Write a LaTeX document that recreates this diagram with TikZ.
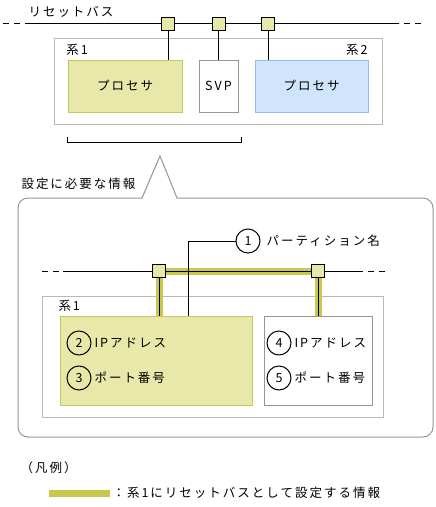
\documentclass[tikz,border=0pt]{standalone}
\usepackage{fontspec}
\setmainfont{Noto Sans CJK JP}[LetterSpace=16]
\usetikzlibrary{positioning}
\definecolor{sysfill}{RGB}{232,232,170}
\definecolor{sysline}{RGB}{200,200,90}
\definecolor{band}{RGB}{200,200,80}
\definecolor{bluefill}{RGB}{208,228,252}
\definecolor{blueline}{RGB}{140,190,245}
\definecolor{framegray}{RGB}{185,185,185}
\definecolor{boxgray}{RGB}{150,150,150}

\begin{document}
\begin{tikzpicture}[x=1pt,y=-1pt, line width=1pt, every node/.style={font=\fontsize{12.5}{14}\selectfont,inner sep=0pt}, frame/.style={draw=framegray,minimum width=#1}, sysbox/.style={draw=sysline,fill=sysfill}, port/.style={draw=black,fill=sysfill,minimum size=13pt}, num/.style={circle,draw,minimum size=24pt}, busdash/.style={dash pattern=on 6pt off 5pt}]
\useasboundingbox (0,0) rectangle (436,507);
% upper part
\node[anchor=west] (bus) at (28,12) {リセットバス};
\node[frame=328pt,minimum height=86pt] (sys) at (218,81) {};
\node[anchor=west] (k1) at (66,50) {系1};
\node[anchor=east] (k2) at (368,50) {系2};
\node[sysbox,minimum width=114pt,minimum height=52pt] (proc1) at (125,86) {プロセサ};
\node[draw=boxgray,fill=white,minimum width=39pt,minimum height=52pt] (svp) at (218.5,86) {SVP};
\node[draw=blueline,fill=bluefill,minimum width=113pt,minimum height=52pt] (proc2) at (311.5,86) {プロセサ};
\coordinate (bl) at (3,23.5); \coordinate (bl2) at (25,23.5);
\coordinate (br) at (421,23.5); \coordinate (br2) at (399,23.5);
\draw[busdash] (bl)--(bl2); \draw (bl2)--(br2); \draw[busdash] (br)--(br2);
\node[port] (s1) at (168,23.5) {};
\node[port] (s2) at (218.5,23.5) {};
\node[port] (s3) at (268,23.5) {};
\draw (s1)--(s1 |- proc1.north); \draw (s2)--(svp); \draw (s3)--(s3 |- proc2.north);
\coordinate (brk1) at (67,137); \coordinate (brk2) at (241,137);
\draw (brk1) -- ++(0,5) -| (brk2);
% callout
\draw[draw=boxgray] (160,156) -- (142,198) -- (28,198) [rounded corners=10pt] -- (18,198) -- (18,437) -- (433,437) -- (433,198) -- (187,198) [sharp corners] -- (177,198) -- cycle;
\node[anchor=west] (info) at (21,184) {設定に必要な情報};
\node[frame=341pt,minimum height=121pt] (sysb) at (212.5,356.5) {};
\node[anchor=west] (k1b) at (58,306) {系1};
\node[sysbox,minimum width=192pt,minimum height=89pt] (proc1b) at (156,360.5) {};
\node[draw=boxgray,minimum width=108pt,minimum height=89pt] (proc2b) at (318,360.5) {};
\coordinate (p3) at (159,271); \coordinate (p4) at (318,271);
\draw[band,line width=7pt] (p3 |- proc1b.north) -- (p3) -- (p4) -- (p4 |- proc2b.north);
\coordinate (cl) at (42,271); \coordinate (cl2) at (63,271);
\coordinate (cr) at (385,271); \coordinate (cr2) at (357,271);
\draw[busdash] (cl)--(cl2); \draw (cl2)--(cr2); \draw[busdash] (cr)--(cr2);
\draw (p3)--(p3 |- proc1b.north); \draw (p4)--(p4 |- proc2b.north);
\node[port] (s4) at (p3) {};
\node[port] (s5) at (p4) {};
\node[num] (n1) at (248,241) {1};
\node[anchor=west] (t1) at (266,241) {パーティション名};
\draw (n1.west) -| (188,316);
\node[num] (n2) at (79,343) {2};
\node[anchor=west] (t2) at (94,343) {IPアドレス};
\node[num] (n3) at (79,378) {3};
\node[anchor=west] (t3) at (94,378) {ポート番号};
\node[num] (n4) at (279,343) {4};
\node[anchor=west] (t4) at (294,343) {IPアドレス};
\node[num] (n5) at (279,378) {5};
\node[anchor=west] (t5) at (294,378) {ポート番号};
% legend
\node[anchor=west] (leg) at (20,468) {（凡例）};
\coordinate (lg1) at (49,493); \coordinate (lg2) at (110,493);
\draw[band,line width=7pt] (lg1)--(lg2);
\node[anchor=west] (legt) at (112,493) {：系1にリセットバスとして設定する情報};
\end{tikzpicture}
\end{document}
